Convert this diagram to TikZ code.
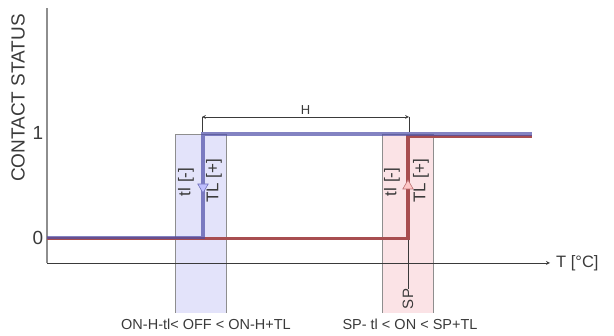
\documentclass[tikz,border=0pt]{standalone}
\usepackage{fontspec}
\setmainfont{Liberation Sans}
\usetikzlibrary{shapes.geometric, arrows, positioning}
\definecolor{bandblue}{HTML}{E3E3FA}
\definecolor{bandred}{HTML}{FBE3E6}
\definecolor{lineblue}{HTML}{4E4EA8}
\definecolor{linered}{HTML}{A84E50}
\definecolor{axisgray}{HTML}{8E8E8E}
\definecolor{textgray}{HTML}{3A3A3A}
\tikzstyle{band} = [draw=axisgray, line width=0.8pt]
\tikzstyle{status} = [line width=3.2pt, line join=miter]
\tikzstyle{tipmark} = [
  regular polygon,
  regular polygon sides=3,
  minimum size=12pt,
  inner sep=0pt,
  line width=0.6pt
]
\tikzstyle{plaintext} = [inner sep=0pt, text=textgray]
\tikzstyle{tol} = [plaintext, rotate=90, font=\fontsize{17}{17}\selectfont]
\tikzstyle{rangetext} = [plaintext, font=\fontsize{14.5}{14.5}\selectfont]
\tikzstyle{leveltext} = [plaintext, font=\fontsize{19}{19}\selectfont]
\tikzstyle{arrow} = [->, >=stealth, draw=textgray, line width=0.8pt]
\tikzstyle{dimline} = [<->, >=stealth, draw=textgray, line width=0.7pt]

\begin{document}
\begin{tikzpicture}[x=1pt, y=-1pt]
    \useasboundingbox (0,0) rectangle (614,336);

    % tolerance bands
    \fill [bandblue] (175,134) rectangle (226,313);
    \draw [band] (175,313) -- (175,134) -- (226,134) -- (226,313);
    \fill [bandred] (382,134) rectangle (433,313);
    \draw [band] (382,313) -- (382,134) -- (433,134) -- (433,313);

    % axes
    \coordinate (origin) at (47,263);
    \coordinate (y-top) at (47,8);
    \coordinate (x-end) at (550,263);
    \draw [axisgray, line width=1.3pt] (origin) -- (y-top);
    \draw [arrow] (origin) -- (x-end);

    \node (contact-status) [leveltext, rotate=90] at (18,98) {CONTACT STATUS};
    \node (level-one) [leveltext] at (38,133) {1};
    \node (level-zero) [leveltext] at (38,238) {0};
    \node (temp-label) [plaintext, font=\fontsize{16.5}{16.5}\selectfont, right=6pt of x-end] {T [°C]};

    % set point marker
    \node (sp-label) [plaintext, rotate=90, font=\fontsize{15}{15}\selectfont] at (408,299) {SP};
    \coordinate (sp-top) at (408,238);
    \draw [textgray, line width=0.6pt] (sp-top) -- (sp-label.east);

    % contact status curves
    \draw [status, linered] (47,238.5) -- (408,238.5) -- (408,136.5) -- (532,136.5);
    \draw [status, lineblue, opacity=0.7] (47,237.5) -- (203,237.5) -- (203,134) -- (532,134);

    \node (off-marker) [tipmark, draw=lineblue!80, fill=blue!25, shape border rotate=180] at (203,187) {};
    \node (on-marker) [tipmark, draw=linered!80, fill=red!22] at (408,186) {};

    % hysteresis
    \coordinate (h-left) at (202,117);
    \coordinate (h-right) at (409,117);
    \draw [textgray, line width=0.7pt] (h-left) -- (202,132);
    \draw [textgray, line width=0.7pt] (h-right) -- (409,132);
    \draw [dimline] (h-left) -- node[plaintext, above=2pt, font=\fontsize{13}{13}\selectfont] (h-label) {H} (h-right);

    % tolerances
    \node (off-tl-minus) [tol] at (186,182) {tl [-]};
    \node (off-tl-plus) [tol] at (214,181) {TL [+]};
    \node (on-tl-minus) [tol] at (392,182) {tl [-]};
    \node (on-tl-plus) [tol] at (421,181) {TL [+]};

    \node (off-range) [rangetext] at (206,324) {ON-H-tl< OFF < ON-H+TL};
    \node (on-range) [rangetext] at (410,324) {SP- tl < ON < SP+TL};
\end{tikzpicture}
\end{document}
